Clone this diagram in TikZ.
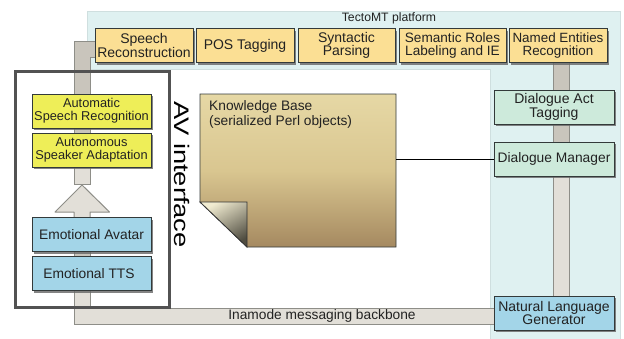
\documentclass[tikz,border=0pt]{standalone}
\usepackage{fontspec}
\setmainfont{Liberation Sans}
\usetikzlibrary{shadows}
\definecolor{teal1}{HTML}{DFF1F1}
\definecolor{tealb}{HTML}{CFDFDF}
\definecolor{orangeb}{HTML}{FBDF94}
\definecolor{yellowb}{HTML}{EEEE58}
\definecolor{blueb}{HTML}{A3D5E8}
\definecolor{greenb}{HTML}{CDEADB}
\definecolor{pipedark}{HTML}{C9C5BC}
\definecolor{pipelight}{HTML}{E2DFD8}
\definecolor{pipeedge}{HTML}{8E8E88}
\definecolor{ink}{HTML}{222222}
\definecolor{edgeb}{HTML}{333A3A}
\definecolor{kbtop}{HTML}{E6D8A5}
\definecolor{kbmid}{HTML}{D9C690}
\definecolor{kbbot}{HTML}{A58960}
\definecolor{foldl}{HTML}{F0EBD0}
\definecolor{foldd}{HTML}{4F4C40}
\tikzset{
  box/.style={draw=edgeb,line width=0.8pt,align=center,inner sep=0pt,text=ink,
    font=\fontsize{14}{13.4}\selectfont,
    drop shadow={shadow xshift=2pt,shadow yshift=-2pt,fill=black!60,opacity=.8},
    minimum height=34pt},
  orangebox/.style={box,fill=orangeb},
  yellowbox/.style={box,fill=yellowb,font=\fontsize{12.8}{13.2}\selectfont},
  bluebox/.style={box,fill=blueb},
  greenbox/.style={box,fill=greenb},
  pipedk/.style={draw=pipeedge,line width=1pt,double=pipedark,double distance=15pt},
  pipelt/.style={draw=pipeedge,line width=1pt,double=pipelight,double distance=15pt},
}
\begin{document}
\begin{tikzpicture}[x=1pt,y=-1pt]
\useasboundingbox (0,0) rectangle (624,338);
\fill[white] (0,0) rectangle (624,338);
\draw[tealb,fill=teal1,line width=.8pt] (87,11) -- (620,11) -- (620,339) -- (490,339) -- (490,69) -- (87,69) -- cycle;
\node[text=ink,font=\fontsize{12.2}{13}\selectfont] (platform) at (389,18.5) {TectoMT platform};
% pipes
\draw[pipedk] (561.5,60) -- (561.5,92);
\draw[pipedk] (561.5,122) -- (561.5,144);
\draw[pipelt] (561.5,174) -- (561.5,298);
\draw[pipelt,line join=miter] (496,316) -- (82,316) -- (82,288);
\draw[pipedk,line join=miter] (97,49) -- (82,49) -- (82,96);
\draw[draw=black!35,line width=1.2pt] (16.5,72.5) rectangle (170.5,308.5);
\draw[draw=black!68,line width=3pt] (15,71) rectangle (169,307);
\draw[pipedk] (82,126) -- (82,135);
\draw[draw=pipeedge,line width=1pt,fill=pipelight] (74,165) -- (74,184.5) -- (90,184.5) -- (90,165);
\draw[draw=pipeedge,line width=1pt,fill=pipelight,line join=round]
  (82,185) -- (109.5,212) -- (90,212) -- (90,220) -- (74,220) -- (74,212) -- (55,212) -- cycle;
\draw[pipedk] (82,249) -- (82,259);
% boxes
\node[orangebox,minimum width=98pt] (sr) at (144,45.5) {Speech\\Reconstruction};
\node[orangebox,minimum width=98pt] (pos) at (245,45.5) {POS Tagging};
\node[orangebox,minimum width=97pt] (syn) at (346.5,45.5) {Syntactic\\Parsing};
\node[orangebox,minimum width=107pt,font=\fontsize{13.6}{13.4}\selectfont] (sem) at (452.5,45.5) {Semantic Roles\\Labeling and IE};
\node[orangebox,minimum width=98pt,font=\fontsize{13.4}{13.4}\selectfont] (ner) at (558,45.5) {Named Entities\\Recognition};
\node[greenbox,minimum width=120pt] (dat) at (554,107) {Dialogue Act\\Tagging};
\node[greenbox,minimum width=120pt,font=\fontsize{13.8}{13.4}\selectfont] (dm) at (554,159) {Dialogue Manager};
\node[bluebox,minimum width=120pt] (nlg) at (554,313) {Natural Language\\Generator};
\node[yellowbox,minimum width=119pt] (asr) at (91.5,111) {Automatic\\Speech Recognition};
\node[yellowbox,minimum width=119pt] (asa) at (91.5,150) {Autonomous\\Speaker Adaptation};
\node[bluebox,minimum width=119pt,font=\fontsize{13.8}{13.4}\selectfont] (av) at (91.5,234.5) {Emotional Avatar};
\node[bluebox,minimum width=119pt,font=\fontsize{13.8}{13.4}\selectfont] (tts) at (91.5,273.5) {Emotional TTS\hspace*{5pt}};
\node[text=ink,font=\fontsize{13.75}{14}\selectfont] (back) at (322,315.5) {Inamode messaging backbone};
\node[rotate=-90,text=black,font=\fontsize{21}{22}\selectfont] (avi) at (182,174.5) {\scalebox{1.3}[1]{AV interface}};
% knowledge base
\path[draw=edgeb,line width=.8pt,top color=kbtop,bottom color=kbbot,middle color=kbmid]
  (200,94) -- (396,94) -- (396,247) -- (247,247) -- (200,202) -- cycle;
\path[draw=black!80,line width=.8pt,left color=foldl,right color=foldd,shading angle=30]
  (200,202) -- (247,202) -- (247,247) -- cycle;
\node[text=ink,font=\fontsize{13.75}{15}\selectfont,align=left,anchor=north west,inner sep=0pt] (kb) at (209,100) {Knowledge Base\\(serialized Perl objects)};
\coordinate (kbe) at (396,159);
\draw[black,line width=.8pt] (kbe) -- (dm.west);
\end{tikzpicture}
\end{document}
